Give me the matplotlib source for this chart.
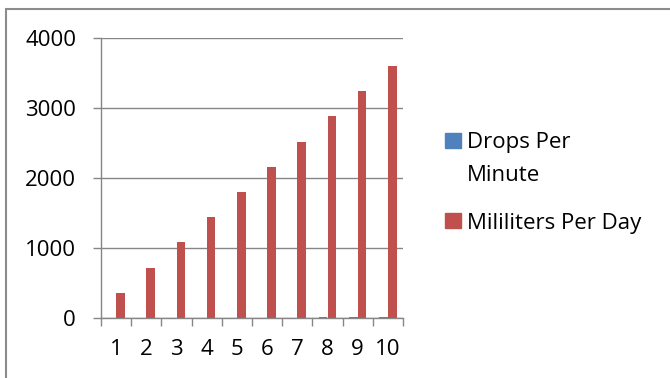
import matplotlib.pyplot as plt
import numpy as np
from matplotlib.patches import Rectangle

plt.rcParams['font.family'] = ['Open Sans', 'DejaVu Sans']

# Data
categories = ['1', '2', '3', '4', '5', '6', '7', '8', '9', '10']
drops_per_minute = [1, 2, 3, 4, 5, 6, 7, 8, 9, 10]
ml_per_day = [360, 720, 1080, 1440, 1800, 2160, 2520, 2880, 3240, 3600]
series_names = ['Drops Per\nMinute', 'Mililiters Per Day']

blue = '#4F81BD'
red = '#C0504D'
grid_gray = '#868686'
fs = 16

fig = plt.figure(figsize=(6.70, 3.78), dpi=100)
ax = fig.add_axes([101 / 670, 1 - 318 / 378, 302 / 670, 280 / 378])

x = np.arange(len(categories))
w = 1 / 3.5  # Excel clustered bars, gap width 150%
ax.bar(x - w / 2, drops_per_minute, w, color=blue, linewidth=0)
ax.bar(x + w / 2, ml_per_day, w, color=red, linewidth=0)

ax.set_xlim(-0.5, len(categories) - 0.5)
ax.set_ylim(0, 4000)
ax.set_yticks([0, 1000, 2000, 3000, 4000])
ax.yaxis.grid(True, color=grid_gray, linewidth=1)
ax.set_axisbelow(True)

# category boundaries get the tick marks, labels sit in the middle
ax.set_xticks(np.arange(len(categories) + 1) - 0.5)
ax.set_xticklabels([])
ax.set_xticks(x, minor=True)
ax.set_xticklabels(categories, minor=True)
ax.tick_params(axis='x', which='major', length=6, width=1, color=grid_gray, direction='out')
ax.tick_params(axis='x', which='minor', length=0, pad=15, labelsize=fs)
ax.tick_params(axis='y', length=6, width=1, color=grid_gray, pad=12, labelsize=fs)

for s in ['top', 'right']:
    ax.spines[s].set_visible(False)
for s in ['left', 'bottom']:
    ax.spines[s].set_color(grid_gray)
    ax.spines[s].set_linewidth(1)

# legend, laid out like Excel's right-hand legend
H = 378
fig.patches.append(Rectangle((445 / 670, 1 - 148 / H), 16 / 670, 15 / H,
                             transform=fig.transFigure, color=blue))
fig.patches.append(Rectangle((445 / 670, 1 - 228 / H), 16 / 670, 15 / H,
                             transform=fig.transFigure, color=red))
first, second = series_names[0].split('\n')
fig.text(467 / 670, 1 - 148 / H, first, fontsize=fs, va='baseline')
fig.text(467 / 670, 1 - 181 / H, second, fontsize=fs, va='baseline')
fig.text(467 / 670, 1 - 229 / H, series_names[1], fontsize=fs, va='baseline')

# chart border
fig.patches.append(Rectangle((6 / 670, -0.1), 1.2, 1 - 8.5 / 378 + 0.1,
                             transform=fig.transFigure, fill=False,
                             edgecolor='#8c8c8c', linewidth=1.5))

fig.savefig('out.png', dpi=100)
